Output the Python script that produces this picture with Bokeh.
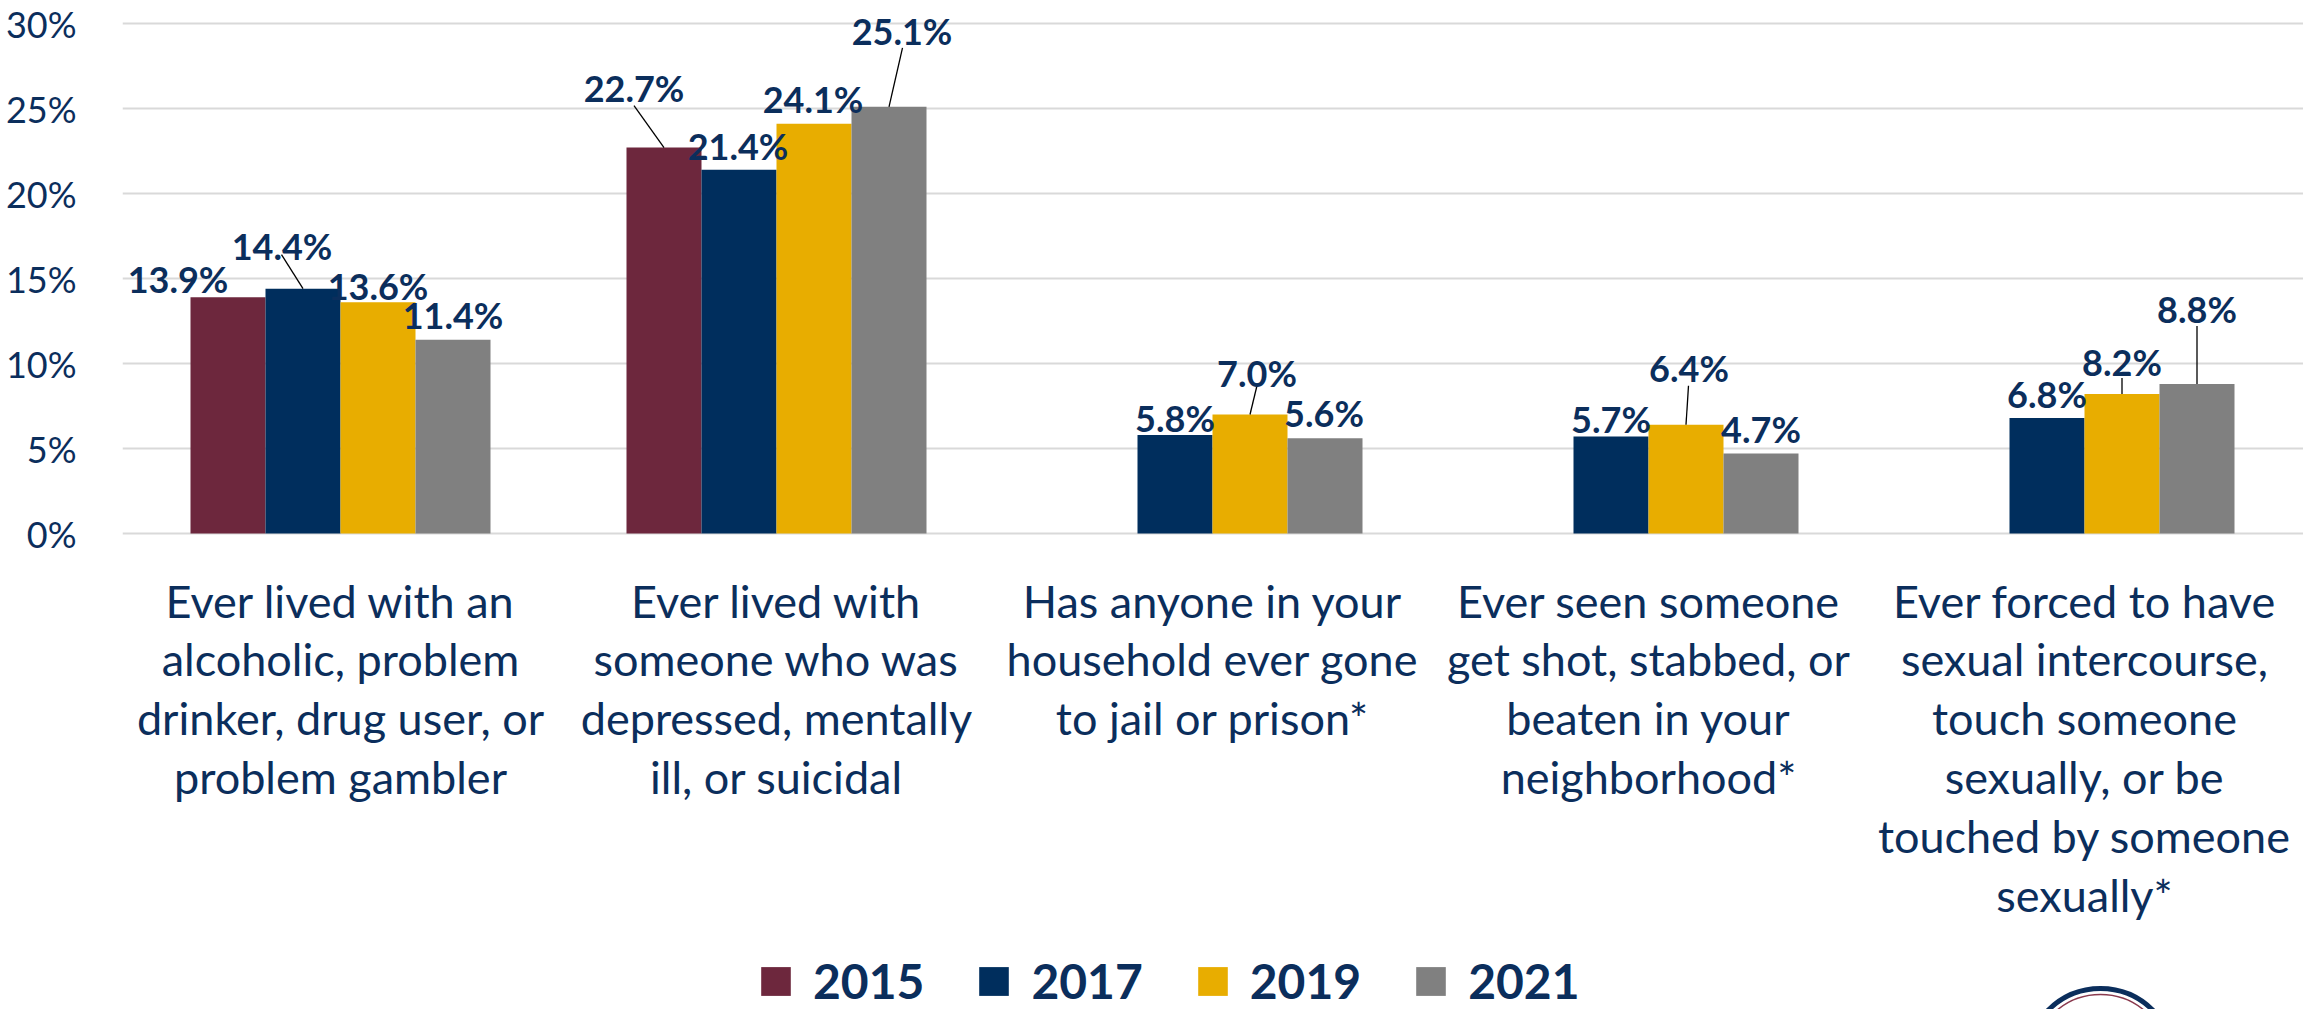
import numpy as np
from bokeh.plotting import figure
from bokeh.models import ColumnDataSource, Range1d, FixedTicker, Legend, LegendItem
from bokeh.core.properties import value
from bokeh.embed import file_html
from bokeh.resources import INLINE

# ---------------- data ----------------
categories = [
    "Ever lived with an\nalcoholic, problem\ndrinker, drug user, or\nproblem gambler",
    "Ever lived with\nsomeone who was\ndepressed, mentally\nill, or suicidal",
    "Has anyone in your\nhousehold ever gone\nto jail or prison*",
    "Ever seen someone\nget shot, stabbed, or\nbeaten in your\nneighborhood*",
    "Ever forced to have\nsexual intercourse,\ntouch someone\nsexually, or be\ntouched by someone\nsexually*",
]
years = ["2015", "2017", "2019", "2021"]
v2015 = [13.9, 22.7, None, None, None]
v2017 = [14.4, 21.4, 5.8, 5.7, 6.8]
v2019 = [13.6, 24.1, 7.0, 6.4, 8.2]
v2021 = [11.4, 25.1, 5.6, 4.7, 8.8]
y_ticks = [0, 5, 10, 15, 20, 25, 30]
y_tick_labels = ["0%", "5%", "10%", "15%", "20%", "25%", "30%"]

# ---------------- styling / layout ----------------
colors = ["#6d273d", "#002e5d", "#e8ad00", "#808080"]
NAVY = "#0b2e5c"
W, H = 2303, 1009
LEFT = 122                 # frame left inside figure
PX_X = 436.0               # pixels per category
PX_Y = 17.0                # pixels per percent
BW = 75.0 / PX_X           # bar width in category units
y_top = 30 + 23 / PX_Y
y_bot = y_top - H / PX_Y
x_end = (W - LEFT) / PX_X

# label offsets in screen px (dx, dy) relative to top-centre of each bar
label_offsets = {
    "2015": [(-50, -18), (-30, -60), None, None, None],
    "2017": [(-21, -43), (-1, -24), (0, -17), (0, -18), (0, -24)],
    "2019": [(0, -16), (-1, -25), (7, -42), (3, -57), (0, -32)],
    "2021": [(0, -25), (13, -76), (-1, -25), (0, -25), (0, -75)],
}
# leader lines: start offset in px relative to bar top-centre
leaders = {
    ("2017", 0): (-21.5, -34),
    ("2015", 1): (-30, -42),
    ("2021", 1): (13.5, -59),
    ("2019", 2): (7.5, -31),
    ("2019", 3): (2.5, -39),
    ("2019", 4): (0, -16),
    ("2021", 4): (0, -58),
}

p = figure(width=W, height=H, x_range=Range1d(0, x_end), y_range=Range1d(y_bot, y_top),
           output_backend="svg", toolbar_location=None, x_axis_location=None,
           min_border_left=LEFT, min_border_right=0, min_border_top=0, min_border_bottom=0)
p.outline_line_color = None
p.background_fill_color = "white"
p.border_fill_color = "white"
for g in p.xgrid:
    g.grid_line_color = None

ax = p.yaxis[0]
ax.ticker = FixedTicker(ticks=y_ticks)
ax.major_label_overrides = {t: lab for t, lab in zip(y_ticks, y_tick_labels)}
ax.axis_line_color = None
ax.major_tick_line_color = None
ax.minor_tick_line_color = None
ax.major_tick_out = 0
ax.major_tick_in = 0
ax.minor_tick_out = 0
ax.minor_tick_in = 0
ax.major_label_text_font = "Lato"
ax.major_label_text_font_size = "36px"
ax.major_label_text_color = NAVY
ax.major_label_standoff = 46
p.ygrid.ticker = FixedTicker(ticks=y_ticks)
p.ygrid.grid_line_color = "#d9d9d9"
p.ygrid.grid_line_width = 2

series = {"2015": v2015, "2017": v2017, "2019": v2019, "2021": v2021}
renderers = []
lab_x, lab_y, lab_t, lab_dx, lab_dy = [], [], [], [], []
sx0, sy0, sx1, sy1 = [], [], [], []
for j, yr in enumerate(years):
    vals = np.array([np.nan if v is None else v for v in series[yr]], dtype=float)
    xs = np.arange(len(categories)) + 0.5 + (j - 1.5) * BW
    src = ColumnDataSource(dict(x=xs, top=vals))
    r = p.vbar(x="x", top="top", width=BW, bottom=0, source=src,
               fill_color=colors[j], line_color=None)
    renderers.append(r)
    for i, v in enumerate(series[yr]):
        if v is None:
            continue
        dx, dy = label_offsets[yr][i]
        lab_x.append(xs[i]); lab_y.append(v); lab_t.append(f"{v:.1f}%")
        lab_dx.append(dx); lab_dy.append(dy)
        if (yr, i) in leaders:
            lx, ly = leaders[(yr, i)]
            sx0.append(xs[i] + lx / PX_X); sy0.append(v - ly / PX_Y)
            sx1.append(xs[i]); sy1.append(v)

p.segment(x0=sx0, y0=sy0, x1=sx1, y1=sy1, line_color="black", line_width=1.3)
p.text(x=lab_x, y=lab_y, text=lab_t, x_offset=lab_dx, y_offset=lab_dy,
       text_font=value("Lato"), text_font_style="bold", text_font_size=value("36px"),
       text_color=NAVY, text_align="center", text_baseline="alphabetic")

# category labels
cat_x = list(np.arange(len(categories)) + 0.5)
p.text(x=cat_x, y=[0] * len(categories), text=categories, y_offset=40,
       text_font=value("Lato"), text_font_size=value("45px"), text_color=NAVY,
       text_align="center", text_baseline="top", text_line_height=1.09)

# logo ring (partially visible at bottom right)
logo_x = (2100 - LEFT) / PX_X
logo_y = y_top - 1062 / PX_Y
p.circle(x=[logo_x], y=[logo_y], radius=74, radius_units="screen",
         fill_color=None, line_color="#0b2e5c", line_width=5)
p.circle(x=[logo_x], y=[logo_y], radius=68, radius_units="screen",
         fill_color=None, line_color="#8a3a4e", line_width=1.5)

legend = Legend(items=[LegendItem(label=yr, renderers=[r]) for yr, r in zip(years, renderers)],
                orientation="horizontal", location=(757 - LEFT, 0),
                glyph_width=37, glyph_height=36, label_standoff=19, spacing=51,
                padding=0, margin=0, border_line_color=None, background_fill_alpha=0,
                label_text_font="Lato", label_text_font_style="bold",
                label_text_font_size="48px", label_text_color=NAVY)
p.add_layout(legend, "center")

open("out.html", "w").write(file_html(p, INLINE))
